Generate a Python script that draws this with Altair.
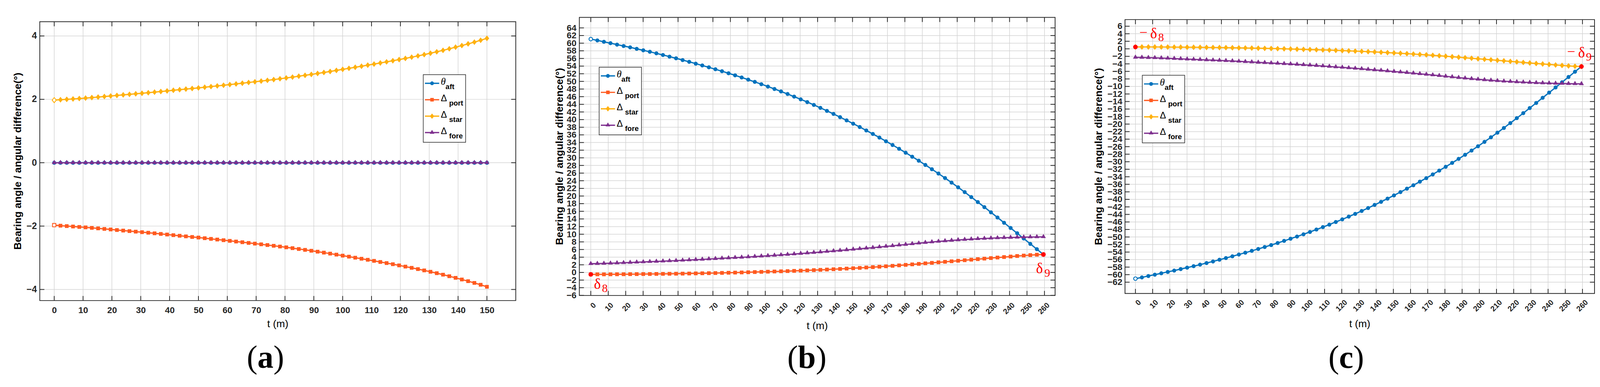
import altair as alt
import numpy as np
import pandas as pd

# ---------------- data ----------------
N_PTS = 70
T_END_A = 150.0
T_END_BC = 259.4
t_a = np.linspace(0, T_END_A, N_PTS)
t_b = np.linspace(0, T_END_BC, N_PTS)
t_c = np.linspace(0, T_END_BC, N_PTS)

# panel (a)
star_a = [1.975, 1.987, 2.000, 2.013, 2.026, 2.040, 2.056, 2.072, 2.089, 2.106,
          2.124, 2.141, 2.158, 2.175, 2.192, 2.209, 2.228, 2.247, 2.266, 2.286,
          2.305, 2.324, 2.343, 2.361, 2.382, 2.403, 2.424, 2.445, 2.466, 2.487,
          2.509, 2.532, 2.554, 2.576, 2.600, 2.624, 2.649, 2.675, 2.702, 2.730,
          2.758, 2.787, 2.817, 2.848, 2.880, 2.913, 2.946, 2.979, 3.012, 3.045,
          3.079, 3.113, 3.148, 3.183, 3.219, 3.255, 3.292, 3.331, 3.371, 3.412,
          3.455, 3.500, 3.547, 3.596, 3.646, 3.698, 3.751, 3.806, 3.864, 3.925]
port_a = [-1.970, -1.987, -2.000, -2.013, -2.027, -2.040, -2.056, -2.072, -2.089, -2.106,
          -2.124, -2.141, -2.158, -2.175, -2.192, -2.209, -2.228, -2.247, -2.266, -2.286,
          -2.305, -2.324, -2.343, -2.361, -2.382, -2.403, -2.424, -2.445, -2.466, -2.487,
          -2.509, -2.531, -2.553, -2.575, -2.598, -2.621, -2.645, -2.670, -2.696, -2.723,
          -2.750, -2.778, -2.807, -2.837, -2.868, -2.900, -2.932, -2.964, -2.997, -3.030,
          -3.063, -3.097, -3.132, -3.167, -3.203, -3.240, -3.278, -3.317, -3.357, -3.398,
          -3.441, -3.486, -3.533, -3.582, -3.633, -3.685, -3.738, -3.793, -3.851, -3.915]
fore_a = [0.0] * N_PTS
aft_a = [0.0] * N_PTS

# panel (b)
aft_b = [61.07, 60.73, 60.36, 60.00, 59.63, 59.27, 58.91, 58.53, 58.14, 57.75,
         57.34, 56.92, 56.49, 56.04, 55.58, 55.12, 54.65, 54.17, 53.68, 53.17,
         52.66, 52.13, 51.59, 51.03, 50.46, 49.87, 49.27, 48.66, 48.02, 47.37,
         46.70, 46.01, 45.31, 44.59, 43.85, 43.08, 42.29, 41.48, 40.65, 39.80,
         38.94, 38.06, 37.16, 36.24, 35.30, 34.34, 33.36, 32.36, 31.34, 30.30,
         29.23, 28.14, 27.02, 25.88, 24.71, 23.51, 22.28, 21.02, 19.73, 18.42,
         17.09, 15.74, 14.38, 13.01, 11.64, 10.26, 8.87, 7.48, 6.09, 4.70]
port_b = [-0.50, -0.50, -0.50, -0.49, -0.48, -0.47, -0.45, -0.44, -0.42, -0.41,
          -0.39, -0.37, -0.35, -0.33, -0.31, -0.28, -0.25, -0.22, -0.19, -0.16,
          -0.12, -0.08, -0.04, 0.00, 0.05, 0.10, 0.15, 0.20, 0.25, 0.30,
          0.35, 0.41, 0.47, 0.54, 0.61, 0.68, 0.76, 0.84, 0.92, 1.01,
          1.10, 1.19, 1.29, 1.39, 1.50, 1.61, 1.73, 1.85, 1.98, 2.11,
          2.24, 2.38, 2.51, 2.65, 2.78, 2.92, 3.06, 3.20, 3.34, 3.48,
          3.62, 3.76, 3.90, 4.03, 4.16, 4.30, 4.42, 4.54, 4.64, 4.70]
fore_b = [2.28, 2.31, 2.35, 2.40, 2.46, 2.53, 2.60, 2.67, 2.74, 2.81,
          2.88, 2.95, 3.02, 3.09, 3.17, 3.25, 3.33, 3.42, 3.51, 3.60,
          3.69, 3.78, 3.87, 3.96, 4.05, 4.15, 4.25, 4.36, 4.47, 4.58,
          4.70, 4.82, 4.94, 5.07, 5.20, 5.33, 5.47, 5.61, 5.75, 5.89,
          6.04, 6.19, 6.34, 6.49, 6.65, 6.81, 6.97, 7.14, 7.31, 7.48,
          7.65, 7.81, 7.96, 8.11, 8.25, 8.38, 8.50, 8.61, 8.71, 8.80,
          8.88, 8.96, 9.03, 9.09, 9.14, 9.19, 9.23, 9.26, 9.29, 9.31]

# panel (c)
aft_c = [-61.07, -60.73, -60.36, -60.00, -59.63, -59.27, -58.91, -58.53, -58.14, -57.75,
         -57.34, -56.92, -56.49, -56.04, -55.58, -55.12, -54.65, -54.17, -53.68, -53.17,
         -52.66, -52.13, -51.59, -51.03, -50.46, -49.87, -49.27, -48.66, -48.02, -47.37,
         -46.70, -46.01, -45.31, -44.59, -43.85, -43.08, -42.29, -41.48, -40.65, -39.80,
         -38.94, -38.06, -37.16, -36.24, -35.30, -34.34, -33.36, -32.36, -31.34, -30.30,
         -29.23, -28.14, -27.02, -25.88, -24.71, -23.51, -22.28, -21.02, -19.73, -18.42,
         -17.09, -15.74, -14.38, -13.01, -11.64, -10.26, -8.87, -7.48, -6.09, -4.70]
star_c = [0.50, 0.50, 0.50, 0.49, 0.48, 0.47, 0.45, 0.44, 0.42, 0.41,
          0.39, 0.37, 0.35, 0.33, 0.31, 0.28, 0.25, 0.22, 0.19, 0.16,
          0.12, 0.08, 0.04, 0.00, -0.05, -0.10, -0.15, -0.20, -0.25, -0.30,
          -0.35, -0.41, -0.47, -0.54, -0.61, -0.68, -0.76, -0.84, -0.92, -1.01,
          -1.10, -1.19, -1.29, -1.39, -1.50, -1.61, -1.73, -1.85, -1.98, -2.11,
          -2.24, -2.38, -2.51, -2.65, -2.78, -2.92, -3.06, -3.20, -3.34, -3.48,
          -3.62, -3.76, -3.90, -4.03, -4.16, -4.30, -4.42, -4.54, -4.64, -4.70]
fore_c = [-2.28, -2.31, -2.35, -2.40, -2.46, -2.53, -2.60, -2.67, -2.74, -2.81,
          -2.88, -2.95, -3.02, -3.09, -3.17, -3.25, -3.33, -3.42, -3.51, -3.60,
          -3.69, -3.78, -3.87, -3.96, -4.05, -4.15, -4.25, -4.36, -4.47, -4.58,
          -4.70, -4.82, -4.94, -5.07, -5.20, -5.33, -5.47, -5.61, -5.75, -5.89,
          -6.04, -6.19, -6.34, -6.49, -6.65, -6.81, -6.97, -7.14, -7.31, -7.48,
          -7.65, -7.81, -7.96, -8.11, -8.25, -8.38, -8.50, -8.61, -8.71, -8.80,
          -8.88, -8.96, -9.03, -9.09, -9.14, -9.19, -9.23, -9.26, -9.29, -9.31]

# tick values
xticks_a = list(range(0, 151, 10))
yticks_a = [-4, -2, 0, 2, 4]
xticks_bc = list(range(0, 261, 10))
yticks_b = list(range(-6, 65, 2))
yticks_c = list(range(-62, 7, 2))

# texts
Y_TITLE = "Bearing angle / angular difference(°)"
X_TITLE = "t (m)"
LEG_ORDER = ["aft", "port", "star", "fore"]
LEG_MAIN = {"aft": "θ", "port": "Δ", "star": "Δ", "fore": "Δ"}

# ---------------- styles ----------------
AX = "#262626"
GRID = "#D3D3D3"
RED = "#FF0000"
COL = {"aft": "#0072BD", "port": "#FF5A1F", "star": "#FFB10F", "fore": "#7E2F8E"}
SHAPE = {"aft": "circle", "port": "square",
         "star": "M-0.8,0L0,-1L0.8,0L0,1Z",
         "fore": "M0,-1.2L1,0.5L-1,0.5Z"}
SIZE = {"aft": 110, "port": 95, "star": 225, "fore": 165}
LW = 3.3
SANS = "Liberation Sans, Arial, Helvetica, sans-serif"
SERIF = "Liberation Serif, Times New Roman, serif"
ONE = pd.DataFrame({"z": [0]})


def txt(x, y, s, **kw):
    return alt.Chart(ONE).mark_text(text=s, **kw).encode(x=alt.value(x), y=alt.value(y))


def legend(bx, by):
    L = [alt.Chart(ONE).mark_rect(fill="white", stroke=AX, strokeWidth=1.5).encode(
        x=alt.value(bx), x2=alt.value(bx + 111), y=alt.value(by), y2=alt.value(by + 177))]
    for k, name in enumerate(LEG_ORDER):
        ry = by + 22.7 + 43 * k
        L.append(alt.Chart(ONE).mark_rule(color=COL[name], strokeWidth=LW).encode(
            x=alt.value(bx + 4.4), x2=alt.value(bx + 41.7), y=alt.value(ry)))
        L.append(alt.Chart(ONE).mark_point(shape=SHAPE[name], size=SIZE[name] * 0.9, filled=True,
                                           color=COL[name], opacity=1).encode(
            x=alt.value(bx + 23), y=alt.value(ry)))
        if name == "aft":
            L.append(txt(bx + 46, ry + 4, LEG_MAIN[name], font=SERIF, fontSize=26,
                         fontStyle="italic", color="black", align="left", baseline="alphabetic"))
            L.append(txt(bx + 58.4, ry + 15.5, name, font=SANS, fontSize=19, fontWeight="bold",
                         color="black", align="left", baseline="alphabetic"))
        else:
            L.append(txt(bx + 46, ry + 4, LEG_MAIN[name], font=SANS, fontSize=24,
                         color="black", align="left", baseline="alphabetic"))
            L.append(txt(bx + 67.7, ry + 15.5, name, font=SANS, fontSize=19, fontWeight="bold",
                         color="black", align="left", baseline="alphabetic"))
    return L


def caption(cx, base, letter, wletter):
    fs = 84
    return [
        txt(cx - wletter / 2, base, "(", font=SERIF, fontSize=fs, color="black",
            align="right", baseline="alphabetic"),
        txt(cx, base, letter, font=SERIF, fontSize=fs, fontWeight="bold", color="black",
            align="center", baseline="alphabetic"),
        txt(cx + wletter / 2, base, ")", font=SERIF, fontSize=fs, color="black",
            align="left", baseline="alphabetic"),
    ]


def make_panel(p):
    W, H, oy, ew = p["W"], p["H"], p["oy"], p["ew"]
    XS = alt.Scale(domain=p["xdom"], nice=False, zero=False, range=[0, W])
    YS = alt.Scale(domain=p["ydom"], nice=False, zero=False, range=[oy + H, oy])
    XAX = alt.Axis(values=p["xticks"], title=None, grid=False, domain=False, ticks=False,
                   tickSize=0, labelFont=SANS, labelFontSize=p["xlfs"], labelFontWeight="bold",
                   labelColor=AX, labelPadding=p["xlpad"], labelAngle=p["xlang"],
                   labelAlign=p["xlalign"], labelBaseline=p["xlbase"], labelOffset=p["xloff"],
                   labelOverlap=False, labelFlush=False, format="d")
    YAX = alt.Axis(values=p["yticks"], title=None, grid=False, domain=False, ticks=False,
                   tickSize=0, labelFont=SANS, labelFontSize=p["ylfs"], labelFontWeight="bold",
                   labelColor=AX, labelPadding=p["ylpad"], labelAlign="right",
                   labelBaseline="middle", labelOverlap=False, labelFlush=False, format="d")
    X = alt.X("t:Q", scale=XS, axis=XAX)
    Y = alt.Y("v:Q", scale=YS, axis=YAX)
    xt = pd.DataFrame({"t": p["xticks"]})
    yt = pd.DataFrame({"v": p["yticks"]})
    TL = 12
    top, bot = oy, oy + H
    L = [
        alt.Chart(xt).mark_rule(color=GRID, strokeWidth=1.5).encode(x=X, y=alt.value(top), y2=alt.value(bot)),
        alt.Chart(yt).mark_rule(color=GRID, strokeWidth=1.5).encode(y=Y, x=alt.value(0), x2=alt.value(W)),
        alt.Chart(xt).mark_rule(color=AX, strokeWidth=2).encode(x=X, y=alt.value(bot - TL), y2=alt.value(bot)),
        alt.Chart(xt).mark_rule(color=AX, strokeWidth=2).encode(x=X, y=alt.value(top), y2=alt.value(top + TL)),
        alt.Chart(yt).mark_rule(color=AX, strokeWidth=2).encode(y=Y, x=alt.value(0), x2=alt.value(TL)),
        alt.Chart(yt).mark_rule(color=AX, strokeWidth=2).encode(y=Y, x=alt.value(W - TL), x2=alt.value(W)),
        alt.Chart(ONE).mark_rect(fillOpacity=0, stroke=AX, strokeWidth=2).encode(
            x=alt.value(0), x2=alt.value(W), y=alt.value(top), y2=alt.value(bot)),
    ]
    for name, t, vals, hollow in p["series"]:
        df = pd.DataFrame({"t": list(t), "v": vals, "i": list(range(len(vals)))})
        L.append(alt.Chart(df).mark_line(color=COL[name], strokeWidth=LW).encode(x=X, y=Y))
        pts = alt.Chart(df)
        if hollow:
            pts = pts.transform_filter("datum.i > 0")
        L.append(pts.mark_point(shape=SHAPE[name], size=SIZE[name], filled=True,
                                color=COL[name], opacity=1).encode(x=X, y=Y))
        if hollow:
            L.append(alt.Chart(df).transform_filter("datum.i == 0").mark_point(
                shape=SHAPE[name], size=SIZE[name] * 0.8, filled=True, fill="white",
                stroke=COL[name], strokeWidth=2.2, opacity=1).encode(x=X, y=Y))
    if p["dots"]:
        dd = pd.DataFrame({"t": [d[0] for d in p["dots"]], "v": [d[1] for d in p["dots"]]})
        L.append(alt.Chart(dd).mark_point(shape="circle", size=145, filled=True, color=RED,
                                          opacity=1).encode(x=X, y=Y))
    for (tt, vv, s, fs, dx, dy) in p["notes"]:
        da = pd.DataFrame({"t": [tt], "v": [vv]})
        L.append(alt.Chart(da).mark_text(text=s, font=SERIF, fontSize=fs, color=RED,
                                         align="left", baseline="alphabetic", dx=dx, dy=dy
                                         ).encode(x=X, y=Y))
    bx, by = p["leg"]
    L += legend(bx, by + oy)
    L.append(txt(p["ytx"], oy + H / 2, Y_TITLE, font=SANS, fontSize=27, fontWeight="bold",
                 color="black", angle=270, align="center", baseline="middle"))
    L.append(txt(W / 2, bot + p["xty"], X_TITLE, font=SANS, fontSize=27, color="black",
                 align="center", baseline="middle"))
    cx, cb, letter, wl = p["cap"]
    L += caption(cx, cb + oy, letter, wl)
    return alt.layer(*L).properties(width=W + ew, height=oy + H)


pa = dict(W=1246.6, H=729.8, oy=11.2, ew=0, xdom=[-5, 160], ydom=[-4.35, 4.45],
          xticks=xticks_a, yticks=yticks_a,
          xlfs=23, xlpad=14.5, xlang=0, xlalign="center", xlbase="top", xloff=0,
          ylfs=24, ylpad=8,
          series=[("aft", t_a, aft_a, False), ("port", t_a, port_a, True),
                  ("star", t_a, star_a, True), ("fore", t_a, fore_a, False)],
          dots=[], notes=[], leg=(1004.3, 138.5), ytx=-57, xty=61.2,
          cap=(591, 905.5, "a", 42))

pb = dict(W=1246, H=727.7, oy=0, ew=16.9, xdom=[-6.56, 266.1], ydom=[-6.03, 66.74],
          xticks=xticks_bc, yticks=yticks_b,
          xlfs=20, xlpad=22, xlang=315, xlalign="right", xlbase="middle", xloff=10,
          ylfs=23, ylpad=8,
          series=[("aft", t_b, aft_b, True), ("port", t_b, port_b, False),
                  ("fore", t_b, fore_b, False)],
          dots=[(t_b[0], port_b[0]), (t_b[-1], port_b[-1])],
          notes=[(t_b[0], port_b[0], "δ", 38, 8.3, 38.3),
                 (t_b[0], port_b[0], "8", 30, 29.3, 46.3),
                 (t_b[-1], port_b[-1], "δ", 38, -19.3, 48.6),
                 (t_b[-1], port_b[-1], "9", 30, 2.7, 58.3)],
          leg=(51.8, 130.4), ytx=-50.7, xty=80.3,
          cap=(596, 916.7, "b", 46.7))

pc = dict(W=1229.6, H=716.7, oy=5.7, ew=0, xdom=[-6.06, 267.0], ydom=[-65.0, 7.76],
          xticks=xticks_bc, yticks=yticks_c,
          xlfs=20, xlpad=20, xlang=315, xlalign="right", xlbase="middle", xloff=11,
          ylfs=23, ylpad=7.5,
          series=[("aft", t_c, aft_c, True), ("star", t_c, star_c, False),
                  ("fore", t_c, fore_c, False)],
          dots=[(t_c[0], star_c[0]), (t_c[-1], star_c[-1])],
          notes=[(t_c[0], star_c[0], "−", 38, 10.3, -26),
                 (t_c[0], star_c[0], "δ", 38, 38.7, -22.7),
                 (t_c[0], star_c[0], "8", 30, 59.7, -15.3),
                 (t_c[-1], star_c[-1], "−", 38, -37.5, -26.5),
                 (t_c[-1], star_c[-1], "δ", 38, -8.8, -23.2),
                 (t_c[-1], star_c[-1], "9", 30, 11.9, -15)],
          leg=(45.3, 145.7), ytx=-68.7, xty=79.8,
          cap=(579.3, 911, "c", 37.3))

panel_a = make_panel(pa)
panel_b = make_panel(pb)
panel_c = make_panel(pc)

chart = alt.hconcat(panel_a, panel_b, panel_c, spacing=166.1, bounds="flush").properties(
    padding={"left": 24, "top": 25.3, "right": 5, "bottom": 5}
).configure_view(stroke=None)

chart.save("out.html", embed_options={"renderer": "svg", "actions": False})
